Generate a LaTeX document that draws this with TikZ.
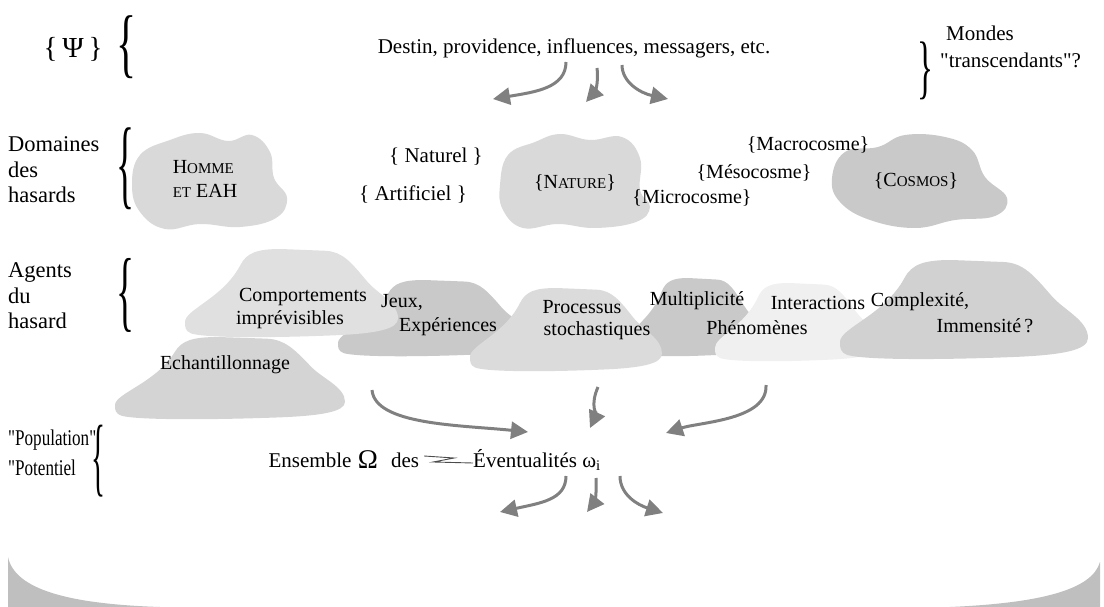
\documentclass[tikz,border=0pt]{standalone}
\usepackage{fontspec}
\setmainfont{Liberation Serif}[Ligatures=TeXOff]
\usetikzlibrary{
  positioning,
  arrows.meta,
  calc
}
\definecolor{arrowgray}{HTML}{808080}
\definecolor{cloudlight}{HTML}{D9D9D9}
\definecolor{clouddark}{HTML}{C9C9C9}
\definecolor{bandgray}{HTML}{BFBFBF}
% tall brace: width, height, glyph
\newcommand{\tallbr}[3]{\resizebox*{#1}{#2}{#3}}
\newcommand{\sci}[1]{{\fontsize{15}{15}\selectfont #1}}
% xl, xr, ytop, ybot, colour
\newcommand{\mound}[5]{%
  \begin{scope}[shift={(#1,#3)}, xscale={#2-#1}, yscale={#4-#3}]
    \fill[#5] (0,0.82) .. controls (0,0.68) and (0.18,0.55) .. (0.26,0.18)
      .. controls (0.29,0.04) and (0.34,0) .. (0.45,0) -- (0.66,0.02)
      .. controls (0.74,0.03) and (0.78,0.15) .. (0.85,0.35)
      .. controls (0.9,0.5) and (1,0.6) .. (1,0.78)
      .. controls (1,0.9) and (0.9,0.95) .. (0.7,0.97)
      .. controls (0.4,1) and (0.1,1) .. (0.03,0.95)
      .. controls (0,0.92) and (0,0.88) .. cycle;
  \end{scope}}

\begin{document}
\begin{tikzpicture}[
  x=1pt, y=-1pt,
  txt/.style={font=\fontsize{20}{24}\selectfont, inner sep=0pt, align=left},
  lab/.style={font=\fontsize{22.5}{25.5}\selectfont, inner sep=0pt, align=left, anchor=west},
  flow/.style={draw=arrowgray, line width=3pt, -{Triangle[length=17pt,width=17pt]}},
  zig/.style={draw=black!70, line width=0.9pt},
]
  \useasboundingbox (0,0) rectangle (1104,607);

  % Transcendent worlds (top)
  \node[txt, font=\fontsize{29}{30}\selectfont] (psi) at (73,49) {\{\,Ψ\,\}};
  \node[txt] (psibr) at (126,47) {\tallbr{20pt}{63pt}{\{}};
  \node[txt, font=\fontsize{21}{25}\selectfont] (destin) at (574,48)
    {Destin, providence, influences, messagers, etc.};
  \node[txt] (mondbr) at (925,71) {\tallbr{16pt}{58pt}{\}}};
  \node[txt, font=\fontsize{21}{25}\selectfont, anchor=west] (mondes) at (946,33) {Mondes};
  \node[txt, font=\fontsize{21}{25}\selectfont, anchor=west] (transc) at (940,60) {"transcendants"?};

  \coordinate (d1) at (566,62);  \coordinate (e1) at (493,99);
  \coordinate (d2) at (597,68);  \coordinate (e2) at (586,102);
  \coordinate (d3) at (622,65);  \coordinate (e3) at (668,99);
  \draw[flow] (d1) .. controls (566,88) and (535,92) .. (e1);
  \draw[flow] (d2) .. controls (599,85) and (594,93) .. (e2);
  \draw[flow] (d3) .. controls (622,82) and (640,93) .. (e3);

  % Domains of chance
  \fill[cloudlight] plot[smooth cycle, tension=0.7] coordinates {
    (132,185) (140,155) (170,140) (200,133) (228,141) (252,135) (270,152)
    (274,178) (287,198) (276,218) (240,227) (200,224) (165,229) (140,212)};
  \fill[cloudlight] plot[smooth cycle, tension=0.7] coordinates {
    (500,185) (508,155) (535,142) (560,134) (590,140) (622,137) (640,158)
    (640,190) (650,207) (636,222) (595,228) (558,224) (523,228) (503,210)};
  \fill[clouddark] plot[smooth cycle, tension=0.7] coordinates {
    (832,178) (845,152) (878,147) (905,135) (945,137) (972,150) (985,177)
    (1007,198) (995,216) (955,220) (915,228) (870,220) (840,202)};

  \node[lab] (domaines) at (8,170) {Domaines\\des\\hasards};
  \node[txt] (dombr) at (125,169) {\tallbr{18pt}{82pt}{\{}};
  \node[txt] (homme) at (205,179) {H\sci{OMME}\\\sci{ET} EAH};
  \node[txt, font=\fontsize{21}{25}\selectfont] (naturel) at (436,157) {\{ Naturel \}};
  \node[txt, font=\fontsize{21}{25}\selectfont] (artif) at (413,195) {\{ Artificiel \}};
  \node[txt] (nature) at (575,183) {\{N\sci{ATURE}\}};
  \node[txt] (macro) at (808,145) {\{Macrocosme\}};
  \node[txt] (meso) at (754,173) {\{Mésocosme\}};
  \node[txt] (micro) at (692,198) {\{Microcosme\}};
  \node[txt] (cosmos) at (916,181) {\{C\sci{OSMOS}\}};

  % Agents of chance
  \mound{338}{530}{280}{357}{clouddark}
  \mound{625}{765}{278}{357}{black!21}
  \mound{185}{398}{249}{338}{black!12}
  \mound{470}{662}{288}{372}{black!14}
  \mound{715}{880}{283}{362}{black!6}
  \mound{840}{1088}{260}{360}{black!18}
  \mound{115}{345}{337}{420}{black!17}

  \node[lab] (agents) at (8,296) {Agents\\du\\hasard};
  \node[txt] (agbr) at (125,295) {\tallbr{18pt}{74pt}{\{}};
  \node[txt] (comp) at (303,297) {Comportements};
  \node[txt] (impr) at (290,320) {imprévisibles};
  \node[txt, anchor=west] (jeux) at (381,302) {Jeux,};
  \node[txt, anchor=west] (exper) at (399,327) {Expériences};
  \node[txt] (proc) at (582,307) {Processus};
  \node[txt] (stoch) at (597,331) {stochastiques};
  \node[txt] (multi) at (697,301) {Multiplicité};
  \node[txt] (inter) at (818,303) {Interactions};
  \node[txt] (pheno) at (757,328) {Phénomènes};
  \node[txt] (compl) at (920,302) {Complexité,};
  \node[txt] (immen) at (985,326) {Immensité\,?};
  \node[txt] (echan) at (225,365) {Echantillonnage};

  % Population / potential
  \node[lab] (popul) at (8,440) {\scalebox{0.76}[1]{"Population"}};
  \node[lab] (poten) at (8,468) {\scalebox{0.76}[1]{"Potentiel}};
  \node[txt] (popbr) at (98,461) {\tallbr{14pt}{72pt}{\{}};
  \node[txt, font=\fontsize{21}{25}\selectfont] (ens) at (310,460) {Ensemble};
  \node[txt, font=\fontsize{27}{27}\selectfont] (omega) at (368,460) {Ω};
  \node[txt, font=\fontsize{21}{25}\selectfont] (des) at (405,460) {des};
  \node[txt, font=\fontsize{21}{25}\selectfont, anchor=west] (evt) at (473,460)
    {Éventualités ω\textsubscript{i}};
  \draw[zig] ([xshift=5pt,yshift=4pt]des.east) -- ++(30,2) -- ++(-21,4)
    -- (evt.west |- 0,463);

  \coordinate (a1) at (372,390);  \coordinate (b1) at (528,432);
  \coordinate (a2) at (598,387);  \coordinate (b2) at (590,428);
  \coordinate (a3) at (766,385);  \coordinate (b3) at (666,433);
  \draw[flow] (a1) .. controls (375,425) and (460,425) .. (b1);
  \draw[flow] (a2) .. controls (590,405) and (596,415) .. (b2);
  \draw[flow] (a3) .. controls (768,420) and (700,422) .. (b3);

  \coordinate (f1) at (566,476);  \coordinate (g1) at (500,512);
  \coordinate (f2) at (596,478);  \coordinate (g2) at (587,512);
  \coordinate (f3) at (620,476);  \coordinate (g3) at (663,513);
  \draw[flow] (f1) .. controls (566,500) and (540,503) .. (g1);
  \draw[flow] (f2) .. controls (597,495) and (594,503) .. (g2);
  \draw[flow] (f3) .. controls (620,495) and (638,505) .. (g3);

  % Bottom tray
  \fill[bandgray] (8,557) .. controls (15,590) and (70,604) .. (160,607)
    -- (950,607) .. controls (1040,603) and (1092,590) .. (1100,562)
    -- (1100,607) -- (8,607) -- cycle;
\end{tikzpicture}
\end{document}
